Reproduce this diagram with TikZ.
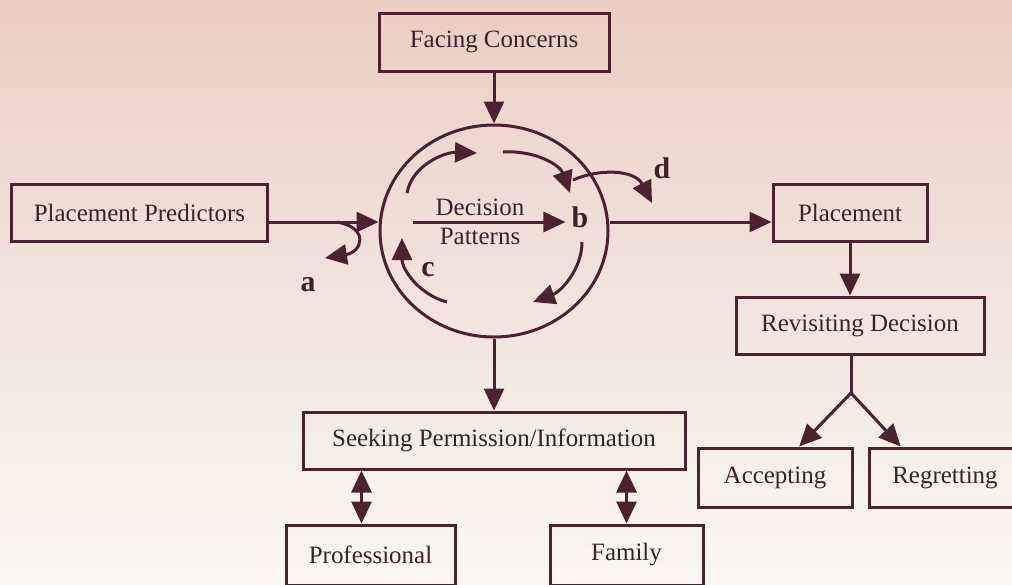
\documentclass[tikz,border=0pt]{standalone}
\usepackage{fontspec}
\setmainfont{Liberation Serif}
\usepackage{tikz}
\usetikzlibrary{arrows.meta, shapes.geometric}
\definecolor{ink}{HTML}{4A2230}
\definecolor{txt}{HTML}{3C2228}
\definecolor{bgtop}{HTML}{EACFC2}
\definecolor{bgbot}{HTML}{FBF7F4}

\begin{document}
\begin{tikzpicture}[
  box/.style={draw=ink, line width=0.06cm, rectangle, inner sep=0pt, text=txt},
  arr/.style={-{Triangle[length=0.44cm, width=0.4cm]}, draw=ink, line width=0.06cm},
  dbl/.style={{Triangle[length=0.44cm, width=0.4cm]}-{Triangle[length=0.44cm, width=0.4cm]}, draw=ink, line width=0.06cm},
  lbl/.style={text=txt, font=\fontsize{17}{19}\selectfont\bfseries},
  font=\fontsize{14.2}{17}\selectfont]
\useasboundingbox[top color=bgtop, bottom color=bgbot] (0,0) rectangle (20.24,-11.68);
% boxes
\node[box, minimum width=4.6cm, minimum height=1.16cm] (fc) at (9.88,-0.84) {Facing Concerns};
\node[box, minimum width=5.1cm, minimum height=1.14cm] (pp) at (2.79,-4.25) {Placement Predictors};
\node[box, minimum width=3.08cm, minimum height=1.14cm] (pl) at (17.0,-4.25) {Placement};
\node[box, minimum width=4.96cm, minimum height=1.14cm] (rd) at (17.2,-6.51) {Revisiting Decision};
\node[box, minimum width=3.08cm, minimum height=1.18cm] (ac) at (15.5,-9.55) {Accepting};
\node[box, minimum width=3.04cm, minimum height=1.18cm] (rg) at (18.9,-9.55) {Regretting};
\node[box, minimum width=7.64cm, minimum height=1.14cm] (sk) at (9.88,-8.81) {Seeking Permission/Information};
\node[box, minimum width=3.38cm, minimum height=1.2cm] (pr) at (7.41,-11.1) {Professional};
\node[box, minimum width=3.06cm, minimum height=1.2cm] (fa) at (12.53,-11.1) {Family};
% decision circle
\node[draw=ink, line width=0.06cm, ellipse, inner sep=0pt, minimum width=4.56cm, minimum height=4.24cm] (dp) at (9.88,-4.62) {};
\node[text=txt] (dec) at (9.6,-4.14) {Decision};
\node[text=txt] (pat) at (9.6,-4.72) {Patterns};
\node[lbl] (b) at (11.6,-4.34) {b};
\node[lbl] (a) at (6.16,-5.7) {a};
\node[lbl] (c) at (8.56,-5.4) {c};
\node[lbl] (d) at (13.24,-3.36) {d};
\coordinate (lvl) at (0,-4.44);
\coordinate (dp0) at (8.26,-4.44);
\coordinate (fork) at (17.02,-7.86);
% connectors
\draw[arr] (fc) -- (dp);
\draw[arr] (pp.east |- lvl) -- (dp.west |- lvl);
\draw[arr] (dp.east |- lvl) -- (pl.west |- lvl);
\draw[arr] (dp0) -- (b.west |- lvl);
\draw[arr] (dp) -- (sk);
\draw[arr] (pl.south) -- (pl.south |- rd.north);
\draw[ink, line width=0.06cm] (rd.south -| fork) -- (fork);
\draw[arr] (fork) -- (ac.52);
\draw[arr] (fork) -- (rg.145);
\draw[dbl] (pr.106 |- sk.south) -- (pr.106);
\draw[dbl] (fa.north |- sk.south) -- (fa.north);
% cycle arrows
\draw[arr] (8.14,-3.86) .. controls (8.24,-3.3) and (8.9,-3.04) .. (9.54,-3.06);
\draw[arr] (10.06,-3.04) .. controls (10.7,-3.0) and (11.2,-3.3) .. (11.4,-3.86);
\draw[arr] (11.64,-4.84) .. controls (11.64,-5.4) and (11.2,-5.84) .. (10.66,-6.04);
\draw[arr] (8.94,-6.04) .. controls (8.4,-5.9) and (8.04,-5.4) .. (8.04,-4.76);
\draw[arr] (11.46,-3.6) .. controls (12.0,-3.36) and (12.7,-3.4) .. (13.04,-4.06);
\draw[arr] (6.74,-4.44) .. controls (7.4,-4.56) and (7.24,-5.04) .. (6.5,-5.16);
\end{tikzpicture}
\end{document}
